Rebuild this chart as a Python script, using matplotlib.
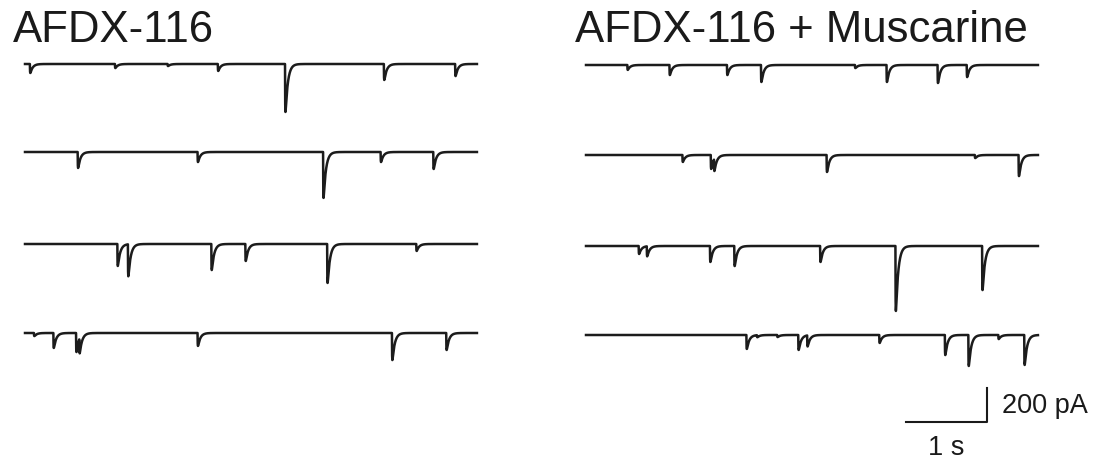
import numpy as np
import matplotlib
matplotlib.use("Agg")
import matplotlib.pyplot as plt

# event times (s) and amplitudes (pA) for each sweep
ctrl_times = [
    [0.06, 1.11, 1.76, 2.38, 3.21, 4.43, 5.31],
    [0.65, 2.13, 3.68, 4.39, 5.04],
    [1.14, 1.27, 2.30, 2.72, 3.73, 4.83],
    [0.11, 0.35, 0.63, 0.67, 2.13, 4.53, 5.20],
]
ctrl_amps = [
    [53, 24, 12, 41, 282, 94, 71],
    [94, 59, 270, 59, 100],
    [129, 188, 153, 100, 229, 41],
    [18, 88, 112, 88, 76, 159, 100],
]
musc_times = [
    [0.51, 1.03, 1.74, 2.16, 3.32, 3.71, 4.34, 4.70],
    [1.19, 1.54, 1.58, 2.97, 4.80, 5.34],
    [0.65, 0.75, 1.53, 1.83, 2.89, 3.82, 4.89],
    [1.98, 2.11, 2.36, 2.62, 2.73, 3.62, 4.43, 4.72, 5.09, 5.41],
]
musc_amps = [
    [29, 59, 59, 100, 18, 100, 106, 71],
    [41, 82, 71, 100, 18, 124],
    [47, 59, 94, 118, 94, 382, 259],
    [82, 12, 12, 88, 65, 47, 118, 182, 24, 176],
]
titles = ["AFDX-116", "AFDX-116 + Muscarine"]

sweep_len = 5.58  # s
dt = 0.0005
tau_rise, tau_decay = 0.002, 0.03

# figure scale: pixels per second and per pA
px_s = 81.0
px_pA = 34.0 / 200.0
W, H = 1102, 460


def sweep(times, amps):
    t = np.arange(0, sweep_len, dt)
    y = np.zeros_like(t)
    tp = tau_rise * tau_decay / (tau_decay - tau_rise) * np.log(tau_decay / tau_rise)
    norm = (1 - np.exp(-tp / tau_rise)) * np.exp(-tp / tau_decay)
    for t0, a in zip(times, amps):
        s = t - t0
        k = np.where(s > 0, (1 - np.exp(-s / tau_rise)) * np.exp(-s / tau_decay), 0.0)
        y -= a * k / norm
    return t, y


fig = plt.figure(figsize=(W / 100, H / 100), dpi=100)
ax = fig.add_axes([0, 0, 1, 1])
ax.set_xlim(0, W / px_s)
ax.set_ylim(-H / px_pA, 0)
ax.axis("off")

col_x = [25, 586]
row_y = [[65, 153, 245, 334], [66, 156, 247, 336]]

for c, (times, amps) in enumerate([(ctrl_times, ctrl_amps), (musc_times, musc_amps)]):
    for r in range(4):
        t, y = sweep(times[r], amps[r])
        ax.plot(t + col_x[c] / px_s, y - row_y[c][r] / px_pA,
                color="#1c1c1c", lw=1.8, solid_joinstyle="round")

fig.text(13 / W, 1 - 42 / H, titles[0], fontsize=31.5, family="Liberation Sans",
         ha="left", va="baseline", color="#1a1a1a")
fig.text(575 / W, 1 - 42 / H, titles[1], fontsize=31.5, family="Liberation Sans",
         ha="left", va="baseline", color="#1a1a1a")

# scale bar: 1 s, 200 pA
sx, sy = 987 / px_s, -423 / px_pA
ax.plot([sx - 1.0, sx, sx], [sy, sy, sy + 200], color="#1a1a1a", lw=1.5)
ax.text(sx + 15 / px_s, sy + 100, "200 pA", fontsize=19.5, family="Liberation Sans",
        ha="left", va="center", color="#1a1a1a")
ax.text(sx - 0.5, sy - 12 / px_pA, "1 s", fontsize=19.5, family="Liberation Sans",
        ha="center", va="top", color="#1a1a1a")

fig.savefig("out.png", dpi=100)
